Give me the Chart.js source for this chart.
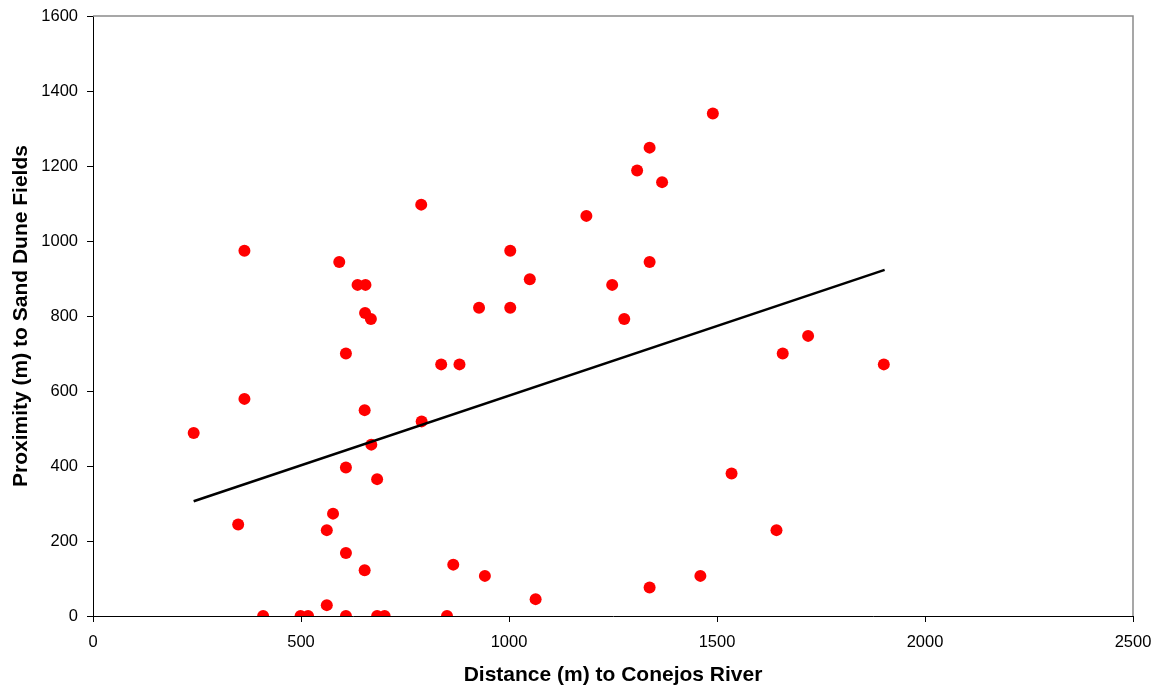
<!DOCTYPE html>
<html>
<head>
<meta charset="utf-8">
<title>Distance to Conejos River vs Proximity to Sand Dune Fields</title>
<script src="https://cdn.jsdelivr.net/npm/chart.js@4.4.1/dist/chart.umd.min.js"></script>
<style>
  html, body { margin: 0; padding: 0; background: #fff; }
  #wrap { position: relative; width: 1157px; height: 688px; }
</style>
</head>
<body>
<div id="wrap"><canvas id="chart"></canvas></div>
<script>
// distance (m) to Conejos River
const distanceX = [
  242, 349, 364, 364, 409, 499, 517, 562, 562, 577,
  592, 608, 608, 608, 608, 636, 655, 654, 653, 653,
  668, 669, 683, 683, 701, 789, 790, 837, 851, 866,
  881, 928, 942, 1003, 1003, 1050, 1064, 1186, 1248, 1277,
  1308, 1338, 1338, 1338, 1368, 1460, 1490, 1535, 1643, 1658,
  1719, 1901,
];
// proximity (m) to sand dune fields, same order
const proximityY = [
  488, 244, 974, 579, 0, 0, 0, 29, 229, 273,
  944, 700, 396, 168, 0, 883, 883, 808, 549, 122,
  792, 457, 365, 0, 0, 1097, 519, 671, 0, 137,
  671, 822, 107, 974, 822, 898, 45, 1067, 883, 792,
  1188, 1249, 944, 76, 1157, 107, 1340, 380, 229, 700,
  747, 671,
];
// linear trend line end points
const trendX = [242, 1903];
const trendY = [306, 923];

const xTicks = [0, 500, 1000, 1500, 2000, 2500];
const yTicks = [0, 200, 400, 600, 800, 1000, 1200, 1400, 1600];

const FONT = 'Arial, "Liberation Sans", Helvetica, sans-serif';

const points = distanceX.map((x, i) => ({ x, y: proximityY[i] }));
const trend = trendX.map((x, i) => ({ x, y: trendY[i] }));

// grey box round the plot area, left/bottom axes are drawn over it
const frame = {
  id: 'frame',
  beforeDatasetsDraw(chart) {
    const { ctx, chartArea: a } = chart;
    ctx.save();
    ctx.strokeStyle = '#8a8a8a';
    ctx.lineWidth = 1.5;
    ctx.beginPath();
    ctx.moveTo(a.left, a.top);
    ctx.lineTo(a.right, a.top);
    ctx.lineTo(a.right, a.bottom);
    ctx.stroke();
    ctx.restore();
  },
};

function axisTicks(values) {
  return (scale) => {
    scale.ticks = values.map((value) => ({ value }));
  };
}

const plain = (value) => String(value);

new Chart(document.getElementById('chart'), {
  type: 'scatter',
  data: {
    datasets: [
      {
        label: 'Sites',
        data: points,
        backgroundColor: '#ff0000',
        borderColor: '#ff0000',
        pointRadius: 6,
        pointHoverRadius: 6,
        borderWidth: 0,
        order: 2,
      },
      {
        label: 'Linear trend',
        data: trend,
        showLine: true,
        borderColor: '#000',
        borderWidth: 2.5,
        pointRadius: 0,
        fill: false,
        order: 1,
      },
    ],
  },
  options: {
    responsive: true,
    maintainAspectRatio: false,
    animation: false,
    layout: { padding: { left: 0, right: 24, top: 16, bottom: 0 } },
    plugins: {
      legend: { display: false },
      tooltip: { enabled: false },
    },
    scales: {
      x: {
        type: 'linear',
        min: 0,
        max: 2500,
        afterBuildTicks: axisTicks(xTicks),
        afterFit: (scale) => {
          scale.height = 72;
          scale.paddingLeft = 0;
          scale.paddingRight = 0;
        },
        grid: { drawOnChartArea: false, drawTicks: true, tickLength: 6, color: '#000' },
        border: { display: true, color: '#000', width: 1 },
        ticks: { color: '#000', padding: 11, maxRotation: 0, callback: plain, font: { family: FONT, size: 16.5 } },
        title: {
          display: true,
          text: 'Distance (m) to Conejos River',
          color: '#000',
          padding: { top: 0, bottom: 0 },
          font: { family: FONT, size: 21, weight: 'bold' },
        },
      },
      y: {
        type: 'linear',
        min: 0,
        max: 1600,
        afterBuildTicks: axisTicks(yTicks),
        afterFit: (scale) => {
          scale.width = 93;
          scale.paddingTop = 0;
          scale.paddingBottom = 0;
        },
        grid: { drawOnChartArea: false, drawTicks: true, tickLength: 6, color: '#000' },
        border: { display: true, color: '#000', width: 1 },
        ticks: { color: '#000', padding: 9, callback: plain, font: { family: FONT, size: 16.5 } },
        title: {
          display: true,
          text: 'Proximity (m) to Sand Dune Fields',
          color: '#000',
          padding: { top: 9, bottom: 0 },
          font: { family: FONT, size: 21, weight: 'bold' },
        },
      },
    },
  },
  plugins: [frame],
});
</script>
</body>
</html>
